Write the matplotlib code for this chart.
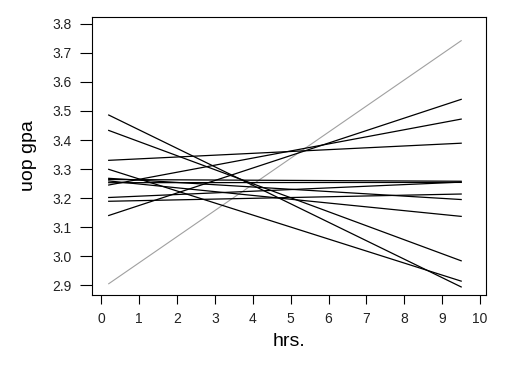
import matplotlib
matplotlib.use("Agg")
import matplotlib.pyplot as plt

plt.rcParams['font.family'] = ['Liberation Sans', 'DejaVu Sans']

# start / end of each fitted line (hrs. 0.2 -> 9.5)
x_start = 0.2
x_end = 9.5
gpa_start = [3.486, 3.433, 3.330, 3.299, 3.268, 3.264, 3.259, 3.253, 3.245, 3.202, 3.189, 3.140]
gpa_end = [2.894, 2.984, 3.389, 2.914, 3.195, 3.258, 3.137, 3.254, 3.472, 3.255, 3.214, 3.540]
# the grey one
grey_start = 2.905
grey_end = 3.742

xticks = list(range(0, 11))
yticks = [2.9, 3.0, 3.1, 3.2, 3.3, 3.4, 3.5, 3.6, 3.7, 3.8]

fig = plt.figure(figsize=(5.2, 3.67), dpi=100)
ax = fig.add_axes([0.177, 0.196, 0.758, 0.758])

ax.plot([x_start, x_end], [grey_start, grey_end], color='#a0a0a0', lw=0.8)
for a, b in zip(gpa_start, gpa_end):
    ax.plot([x_start, x_end], [a, b], color='black', lw=0.9)

ax.set_xlim(-0.24, 10.16)
ax.set_ylim(2.866, 3.824)
ax.set_xticks(xticks)
ax.set_yticks(yticks)
ax.set_yticklabels(['%.1f' % v for v in yticks])
ax.tick_params(axis='x', direction='out', length=6.5, width=0.8, labelsize=10, pad=5.5,
               labelcolor='#222222')
ax.tick_params(axis='y', direction='out', length=8.5, width=0.8, labelsize=10, pad=6,
               labelcolor='#222222')
for s in ax.spines.values():
    s.set_linewidth(0.8)

ax.set_xlabel('hrs.', fontsize=14, labelpad=5)
ax.set_ylabel('uop gpa', fontsize=14, labelpad=11)

fig.savefig('out.png', dpi=100)
